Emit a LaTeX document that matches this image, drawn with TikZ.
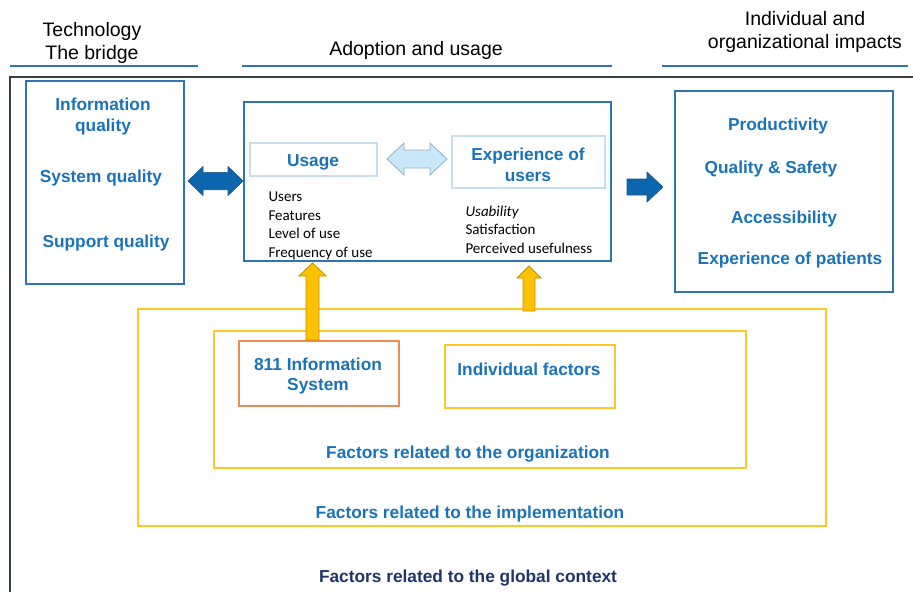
\documentclass[tikz,border=0pt]{standalone}
\usepackage{fontspec}
\setmainfont{Liberation Sans}
\newfontfamily\calib{Carlito}
\definecolor{bborder}{HTML}{2E75B6}
\definecolor{btext}{HTML}{1A73B8}
\definecolor{navy}{HTML}{1F3468}
\definecolor{lightb}{HTML}{C5DFF0}
\definecolor{lightfill}{HTML}{C8E7F8}
\definecolor{lightedge}{HTML}{93AEBD}
\definecolor{darkarrow}{HTML}{0B66AD}
\definecolor{darkedge}{HTML}{1F5283}
\definecolor{yel}{HTML}{FFC000}
\definecolor{yeledge}{HTML}{BF9000}
\definecolor{yelbox}{HTML}{FFC62A}
\definecolor{orng}{HTML}{EE8A52}
\definecolor{frame}{HTML}{3A3F44}
\tikzset{
  box/.style={draw=#1, line width=1.4pt, minimum width=10pt, inner sep=0pt},
  ttl/.style={font=\fontsize{19.5}{23}\selectfont, align=center, text=black},
  lbl/.style={font=\bfseries\fontsize{17.3}{20.5}\selectfont, align=center, text=btext},
  lst/.style={font=\calib\fontsize{15}{18.6}\selectfont, align=left, text=black, anchor=west},
  uline/.style={draw=bborder, line width=1.5pt},
}
\begin{document}
\begin{tikzpicture}[x=1pt,y=-1pt]
\useasboundingbox (0,0) rectangle (913,592);
% header titles
\node[ttl] (t1) at (92,42.5) {Technology\\The bridge};
\node[ttl] (t2) at (416,50) {Adoption and usage};
\node[ttl] (t3) at (805,32) {Individual and\\organizational impacts};
\coordinate (u1a) at (10,66); \coordinate (u1b) at (198,66);
\coordinate (u2a) at (242,66); \coordinate (u2b) at (612,66);
\coordinate (u3a) at (662,66); \coordinate (u3b) at (908,66);
\draw[uline] (u1a) -- (u1b);
\draw[uline] (u2a) -- (u2b);
\draw[uline] (u3a) -- (u3b);
% frame
\coordinate (f1) at (10,592); \coordinate (f2) at (10,77); \coordinate (f3) at (913,77);
\draw[frame, line width=1.4pt] (f1) -- (f2) -- (f3);
% boxes
\node[box=bborder, minimum width=158, minimum height=203] (left) at (105,182.5) {};
\node[box=bborder, minimum width=367, minimum height=159] (mid) at (427.5,181.5) {};
\node[box=lightb, minimum width=127, minimum height=33] (usage) at (313.5,159.5) {};
\node[box=lightb, minimum width=153, minimum height=52] (exper) at (528.5,162) {};
\node[box=bborder, minimum width=218, minimum height=201] (right) at (784,191.5) {};
\node[box=yelbox, minimum width=688, minimum height=217] (impl) at (482,417.5) {};
\node[box=yelbox, minimum width=532, minimum height=137] (org) at (480,399.5) {};
\node[box=orng, minimum width=160, minimum height=65] (is811) at (319,373.5) {};
\node[box=yelbox, minimum width=170, minimum height=63] (indiv) at (530,376.5) {};
% left box labels
\node[lbl] (iq) at (103,116.5) {Information\\quality};
\node[lbl] (sq) at (101,178) {System quality};
\node[lbl] (spq) at (106,243) {Support quality};
% middle labels
\node[lbl] (ul) at (313,162) {Usage};
\node[lbl] (el) at (528,165) {Experience of\\users};
\node[lst] (ulist) at (265,226) {Users\\Features\\Level of use\\Frequency of use};
\node[lst] (elist) at (462,229.5) {\textit{Usability}\\Satisfaction\\Perceived usefulness};
% right labels
\node[lbl] (p1) at (778,126) {Productivity};
\node[lbl] (p2) at (771,169) {Quality \& Safety};
\node[lbl] (p3) at (784,219) {Accessibility};
\node[lbl] (p4) at (790,260) {Experience of patients};
% bottom labels
\node[lbl] (l811) at (318,376) {811 Information\\System};
\node[lbl] (lind) at (529,369) {Individual factors};
\node[lbl] (lorg) at (468,454) {Factors related to the organization};
\node[lbl] (limp) at (470,514) {Factors related to the implementation};
\node[lbl, text=navy] (lglob) at (468,578) {Factors related to the global context};
% block arrows
\draw[fill=darkarrow, draw=darkedge, line width=0.6pt]
  (188,181) -- (203,166.5) -- (203,172.3) -- (228,172.3) -- (228,166.5) -- (243,181)
  -- (228,195.5) -- (228,189.7) -- (203,189.7) -- (203,195.5) -- cycle;
\draw[fill=lightfill, draw=lightedge, line width=0.8pt]
  (387,159) -- (404,143) -- (404,150) -- (430,150) -- (430,143) -- (447,159)
  -- (430,175) -- (430,168) -- (404,168) -- (404,175) -- cycle;
\draw[fill=darkarrow, draw=darkedge, line width=0.6pt]
  (627,179) -- (647,179) -- (647,172) -- (663,187) -- (647,202) -- (647,195) -- (627,195) -- cycle;
\draw[fill=yel, draw=yeledge, line width=0.8pt]
  (306,340) -- (306,276) -- (299,276) -- (312.5,263) -- (326,276) -- (319,276) -- (319,340) -- cycle;
\draw[fill=yel, draw=yeledge, line width=0.8pt]
  (523,311) -- (523,278) -- (517,278) -- (529,266) -- (541,278) -- (535,278) -- (535,311) -- cycle;
\end{tikzpicture}
\end{document}
